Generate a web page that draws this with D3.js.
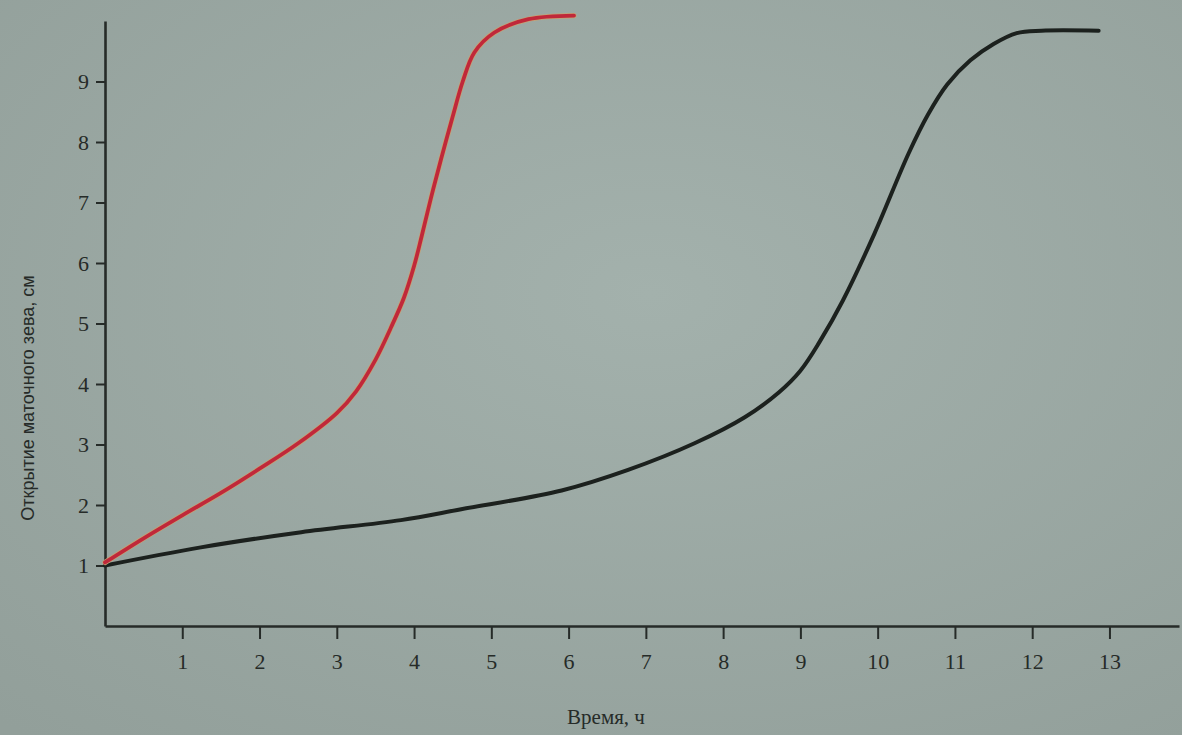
<!DOCTYPE html>
<html>
<head>
<meta charset="utf-8">
<script src="https://cdn.jsdelivr.net/npm/d3@7"></script>
<style>
  html, body { margin: 0; padding: 0; background: #9aa8a2; }
  svg { display: block; }
</style>
</head>
<body>
<svg id="chart"></svg>
<script>
// time, h / cervical dilation, cm
const redHours = [0, 0.5, 1, 1.5, 2, 2.5, 3, 3.25, 3.5, 3.7, 3.87, 4.0, 4.1, 4.22, 4.35, 4.5, 4.63, 4.78, 5.04, 5.48, 6.07];
const redOpen = [1.05, 1.45, 1.83, 2.2, 2.6, 3.02, 3.52, 3.88, 4.4, 4.93, 5.43, 5.95, 6.45, 7.08, 7.72, 8.42, 9.0, 9.48, 9.81, 10.03, 10.09];

const blackHours = [0, 1.24, 2.54, 3.83, 4.61, 5.91, 6.77, 7.63, 8.28, 8.72, 9.0, 9.25, 9.55, 9.96, 10.4, 10.65, 10.9, 11.2, 11.5, 11.8, 12.12, 12.86];
const blackOpen = [1.0, 1.3, 1.55, 1.75, 1.93, 2.24, 2.58, 3.02, 3.45, 3.86, 4.22, 4.7, 5.38, 6.49, 7.81, 8.45, 8.95, 9.35, 9.62, 9.8, 9.84, 9.84];

const xTicks = [1, 2, 3, 4, 5, 6, 7, 8, 9, 10, 11, 12, 13];
const yTicks = [1, 2, 3, 4, 5, 6, 7, 8, 9];

const xTitle = "Время, ч";
const yTitle = "Открытие маточного зева, см";

const width = 1182;
const height = 735;

const svg = d3.select("#chart")
  .attr("width", width)
  .attr("height", height);

// paper background, a little darker at the edges like the photo
const defs = svg.append("defs");
const grad = defs.append("radialGradient")
  .attr("id", "paper")
  .attr("cx", "55%").attr("cy", "40%").attr("r", "80%");
grad.append("stop").attr("offset", "0%").attr("stop-color", "#a3b1ac");
grad.append("stop").attr("offset", "100%").attr("stop-color", "#929f9a");
svg.append("rect")
  .attr("width", width)
  .attr("height", height)
  .attr("fill", "url(#paper)");

// scales
const x = d3.scaleLinear().domain([0, 13.9]).range([105, 1179]);
const y = d3.scaleLinear().domain([0, 10]).range([626, 21]);

const ink = "#262b28";

// x axis
const xAxis = svg.append("g")
  .attr("transform", `translate(0,${y(0)})`)
  .call(d3.axisBottom(x).tickValues(xTicks).tickSize(13).tickPadding(14).tickSizeOuter(0));
xAxis.select(".domain").attr("stroke", ink).attr("stroke-width", 2.6);
xAxis.selectAll(".tick line").attr("stroke", ink).attr("stroke-width", 2);
xAxis.selectAll("text")
  .attr("fill", ink)
  .style("font-family", "'Liberation Serif', 'DejaVu Serif', serif")
  .style("font-size", "22px");

// y axis
const yAxis = svg.append("g")
  .attr("transform", `translate(${x(0)},0)`)
  .call(d3.axisLeft(y).tickValues(yTicks).tickSize(9).tickPadding(7).tickSizeOuter(0));
yAxis.select(".domain").attr("stroke", ink).attr("stroke-width", 2.6);
yAxis.selectAll(".tick line").attr("stroke", ink).attr("stroke-width", 2);
yAxis.selectAll("text")
  .attr("fill", ink)
  .style("font-family", "'Liberation Serif', 'DejaVu Serif', serif")
  .style("font-size", "22px");

// curves
const line = d3.line()
  .x(d => x(d[0]))
  .y(d => y(d[1]))
  .curve(d3.curveCatmullRom.alpha(0.5));

const blackData = blackHours.map((h, i) => [h, blackOpen[i]]);
const redData = redHours.map((h, i) => [h, redOpen[i]]);

svg.append("path")
  .datum(blackData)
  .attr("fill", "none")
  .attr("stroke", "#1c211e")
  .attr("stroke-width", 4)
  .attr("stroke-linecap", "round")
  .attr("d", line);

// red curve has a thin yellowish fringe in the print
svg.append("path")
  .datum(redData)
  .attr("fill", "none")
  .attr("stroke", "#c7a071")
  .attr("stroke-width", 5.2)
  .attr("stroke-linecap", "round")
  .attr("d", line);

svg.append("path")
  .datum(redData)
  .attr("fill", "none")
  .attr("stroke", "#c0283a")
  .attr("stroke-width", 3.8)
  .attr("stroke-linecap", "round")
  .attr("d", line);

// axis titles
svg.append("text")
  .attr("x", 606)
  .attr("y", 724)
  .attr("text-anchor", "middle")
  .attr("fill", ink)
  .style("font-family", "'Liberation Serif', 'DejaVu Serif', serif")
  .style("font-size", "21px")
  .text(xTitle);

svg.append("text")
  .attr("transform", "translate(34,398) rotate(-90)")
  .attr("text-anchor", "middle")
  .attr("fill", ink)
  .style("font-family", "'Liberation Sans', Arial, sans-serif")
  .style("font-size", "18px")
  .text(yTitle);
</script>
</body>
</html>
